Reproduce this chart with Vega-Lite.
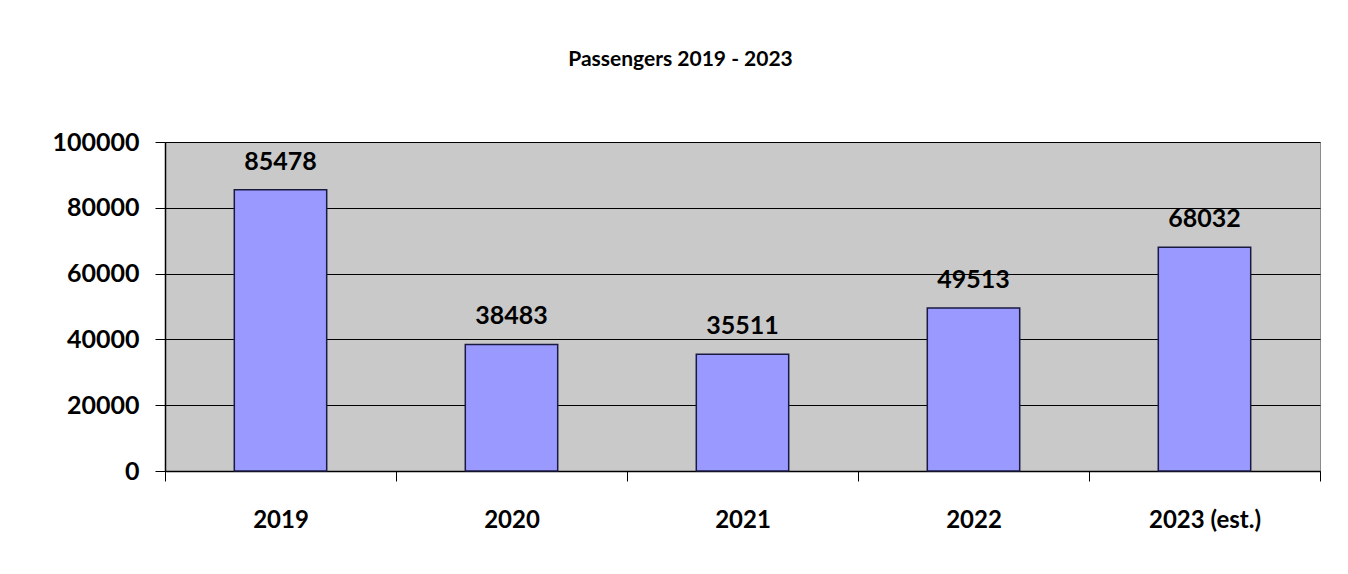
{
  "$schema": "https://vega.github.io/schema/vega-lite/v6.json",
  "autosize": {"type": "none"},
  "width": 1155,
  "height": 329,
  "padding": {"left": 165, "top": 142, "right": 28, "bottom": 103},
  "background": "white",
  "title": {
    "text": "Passengers 2019 - 2023",
    "font": "Lato",
    "fontSize": 21,
    "fontWeight": "bold",
    "color": "black",
    "anchor": "middle",
    "frame": "group",
    "dx": -62,
    "offset": 60
  },
  "config": {
    "view": {"fill": "#c9c9c9", "stroke": "#8a8a8a", "strokeWidth": 1},
    "font": "Lato"
  },
  "data": {
    "values": [
      {"year": "2019", "passengers": 85478},
      {"year": "2020", "passengers": 38483},
      {"year": "2021", "passengers": 35511},
      {"year": "2022", "passengers": 49513},
      {"year": "2023 (est.)", "passengers": 68032}
    ]
  },
  "encoding": {
    "x": {
      "field": "year",
      "type": "nominal",
      "sort": null,
      "scale": {"paddingInner": 0, "paddingOuter": 0},
      "axis": {
        "title": null,
        "labelAngle": 0,
        "labelFont": "Lato",
        "labelFontSize": 24,
        "labelFontWeight": "bold",
        "labelColor": "black",
        "labelPadding": 27,
        "tickBand": "extent",
        "tickSize": 10,
        "tickColor": "black",
        "domainColor": "black",
        "domainWidth": 1.5,
        "grid": false
      }
    },
    "y": {
      "field": "passengers",
      "type": "quantitative",
      "scale": {"domain": [0, 100000], "nice": false},
      "axis": {
        "title": null,
        "values": [0, 20000, 40000, 60000, 80000, 100000],
        "format": "d",
        "labelFont": "Lato",
        "labelFontSize": 25,
        "labelFontWeight": "bold",
        "labelColor": "black",
        "labelPadding": 16,
        "tickSize": 10,
        "tickColor": "black",
        "domainColor": "black",
        "domainWidth": 1.5,
        "grid": true,
        "gridColor": "black",
        "gridWidth": 1,
        "gridOpacity": 1
      }
    }
  },
  "layer": [
    {
      "mark": {"type": "bar", "width": {"band": 0.4}, "color": "#9999ff", "stroke": "#1a1a40", "strokeWidth": 1.5}
    },
    {
      "mark": {
        "type": "text",
        "baseline": "bottom",
        "dy": -15,
        "font": "Lato",
        "fontSize": 25,
        "fontWeight": "bold",
        "color": "black"
      },
      "encoding": {"text": {"field": "passengers", "type": "quantitative", "format": "d"}}
    }
  ]
}
